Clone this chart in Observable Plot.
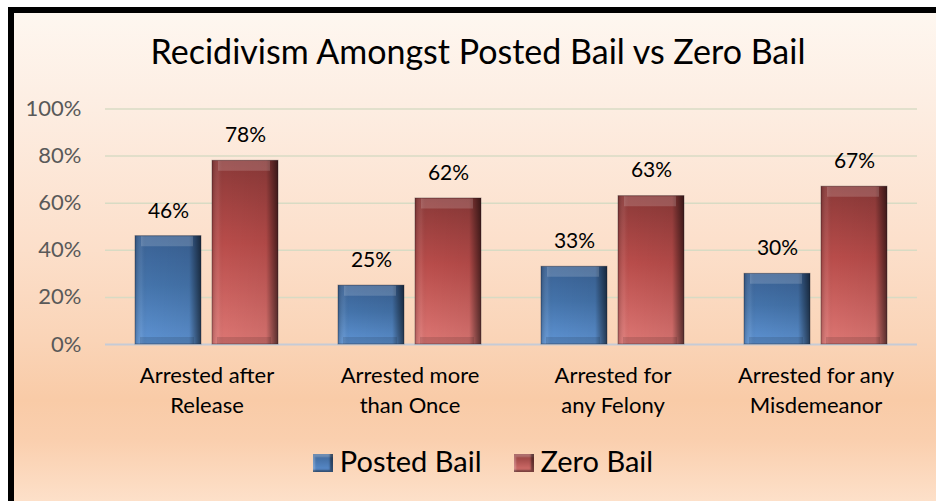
<!DOCTYPE html>
<html>
<head>
<meta charset="utf-8">
<script src="https://cdn.jsdelivr.net/npm/d3@7"></script>
<script src="https://cdn.jsdelivr.net/npm/@observablehq/plot@0.6"></script>
<style>
  html, body { margin: 0; padding: 0; background: #fff; }
  #wrap { position: relative; width: 936px; height: 501px; overflow: hidden; font-family: Lato, "Open Sans", sans-serif; }
  #frame {
    position: absolute; left: 8px; top: 7px; right: -30px; bottom: 0;
    border-top: 6px solid #000; border-left: 6px solid #000;
    background: linear-gradient(to bottom,
      #fef7f0 0px, #fdeee3 87px, #fcdfca 237px, #fad4b7 327px,
      #f9cba7 387px, #facfae 427px, #fde0c9 488px);
  }
  #title {
    position: absolute; top: 29px; left: 8px; width: 940px; text-align: center;
    font-size: 34px; line-height: 44px; color: #000; white-space: nowrap;
  }
  #chart { position: absolute; left: 0; top: 80px; }
  #legend {
    position: absolute; top: 443px; left: 0; width: 966px; text-align: center;
    font-size: 29px; line-height: 36px; color: #000; white-space: nowrap;
  }
  .sw { display: inline-block; width: 20px; height: 18px; margin-right: 7px; vertical-align: baseline; box-sizing: border-box; }
  .sw.b { background: linear-gradient(to bottom, #3d6597, #5b8fd0); box-shadow: inset -3px -2px 2px rgba(0,0,0,0.45), inset 2px 3px 2px rgba(255,255,255,0.25); }
  .sw.r { background: linear-gradient(to bottom, #8f3b3a, #da7471); box-shadow: inset -3px -2px 2px rgba(0,0,0,0.45), inset 2px 3px 2px rgba(255,255,255,0.25); }
  .item { display: inline-block; }
  .item + .item { margin-left: 32px; }
</style>
</head>
<body>
<div id="wrap">
  <div id="frame"></div>
  <div id="title">Recidivism Amongst Posted Bail vs Zero Bail</div>
  <div id="chart"></div>
  <div id="legend">
    <span class="item"><span class="sw b"></span>Posted Bail</span><span class="item"><span class="sw r"></span>Zero Bail</span>
  </div>
</div>
<script>
const categories = ["Arrested after Release", "Arrested more than Once", "Arrested for any Felony", "Arrested for any Misdemeanor"];
const categoryLabels = ["Arrested after\nRelease", "Arrested more\nthan Once", "Arrested for\nany Felony", "Arrested for any\nMisdemeanor"];
const series = ["Posted Bail", "Zero Bail"];
const postedBail = [46, 25, 33, 30];
const zeroBail = [78, 62, 63, 67];
const yTicks = [0, 20, 40, 60, 80, 100];

const table = [];
categories.forEach((c, i) => {
  table.push({category: c, series: series[0], value: postedBail[i]});
  table.push({category: c, series: series[1], value: zeroBail[i]});
});

const svg = Plot.plot({
  width: 936,
  height: 340,
  marginTop: 28.5,
  marginBottom: 76,
  marginLeft: 105,
  marginRight: 19,
  style: {fontFamily: "Lato, 'Open Sans', sans-serif", fontSize: "22px", color: "#595959", background: "transparent", overflow: "visible"},
  fx: {domain: categories, padding: 0, axis: null},
  x: {domain: series, paddingInner: 0.147, paddingOuter: 0.375, axis: null},
  y: {domain: [0, 100], ticks: yTicks, tickFormat: d => d + "%", tickSize: 0, tickPadding: 24, label: null},
  color: {domain: series, range: ["url(#gBlue)", "url(#gRed)"]},
  marks: [
    Plot.ruleY(yTicks.filter(d => d > 0), {stroke: "#d8dbc4", strokeWidth: 1.5}),
    Plot.ruleY([0], {stroke: "#c6cbd6", strokeWidth: 2}),
    Plot.barY(table, {fx: "category", x: "series", y: "value", fill: "series"}),
    Plot.barY(table, {fx: "category", x: "series", y: "value", fill: "url(#gEdge)", stroke: "rgba(20,20,30,0.35)", strokeWidth: 1}),
    Plot.tickY(table, {fx: "category", x: "series", y: "value", dy: 5, stroke: "rgba(255,255,255,0.16)", strokeWidth: 10, insetLeft: 6, insetRight: 8}),
    Plot.tickY(table, {fx: "category", x: "series", y: 0, dy: -4, stroke: "rgba(0,0,0,0.12)", strokeWidth: 7, insetLeft: 5, insetRight: 7}),
    Plot.text(table, {fx: "category", x: "series", y: "value", text: d => d.value + "%", dy: -25.4, fill: "#000", fontSize: 21}),
    Plot.text(categories, {fx: d => d, text: d => categoryLabels[categories.indexOf(d)], frameAnchor: "bottom", lineAnchor: "top", dy: 17, lineHeight: 1.36, fill: "#000", fontSize: 22})
  ]
});

const defs = d3.select(svg).insert("defs", ":first-child");
function grad(id, x2, y2, stops) {
  const g = defs.append("linearGradient").attr("id", id).attr("x1", 0).attr("y1", 0).attr("x2", x2).attr("y2", y2);
  stops.forEach(([o, c, op]) => g.append("stop").attr("offset", o).attr("stop-color", c).attr("stop-opacity", op == null ? 1 : op));
}
grad("gBlue", 0, 1, [["0%", "#3a6194"], ["45%", "#4473aa"], ["100%", "#5e93d3"]]);
grad("gRed", 0, 1, [["0%", "#8b3938"], ["45%", "#b84c4a"], ["100%", "#dc7673"]]);
grad("gEdge", 1, 0, [["0%", "#000", 0.2], ["10%", "#fff", 0.06], ["18%", "#000", 0], ["82%", "#000", 0.05], ["90%", "#000", 0.3], ["100%", "#000", 0.6]]);

document.getElementById("chart").appendChild(svg);
</script>
</body>
</html>
